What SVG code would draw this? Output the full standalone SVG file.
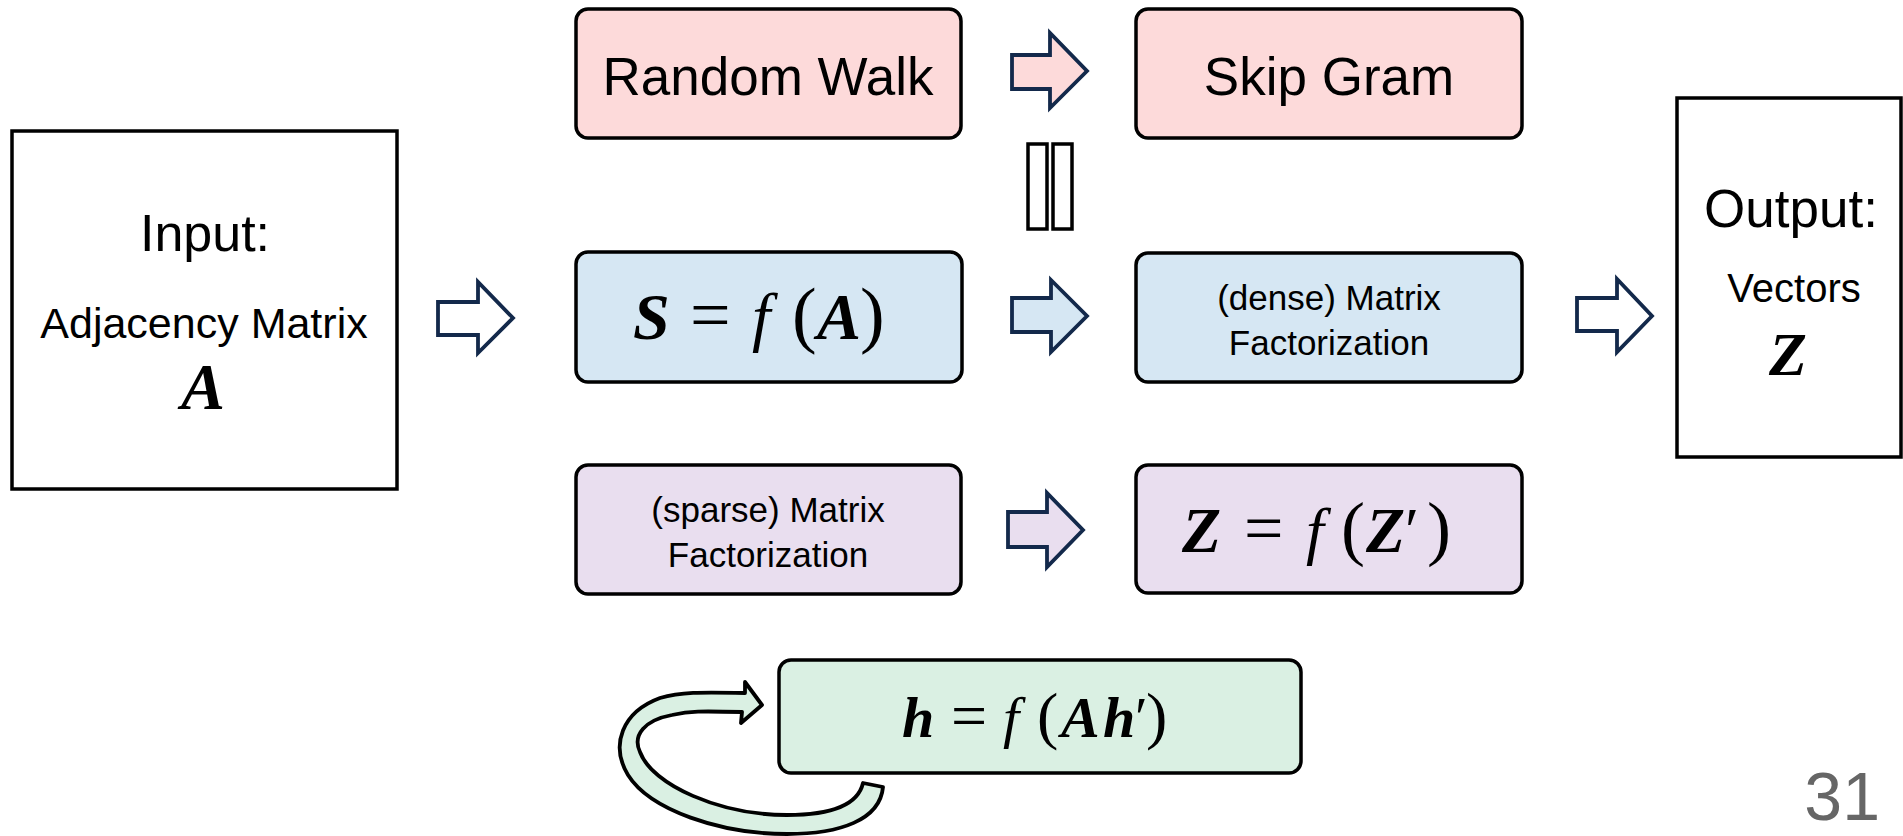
<svg xmlns="http://www.w3.org/2000/svg" width="1903" height="836" viewBox="0 0 1903 836">
<style>
.box{stroke:#000;stroke-width:3.5}
.sq{fill:#fff;stroke:#000;stroke-width:3.5}
.pink{fill:#fddada}
.blue{fill:#d6e7f3}
.purple{fill:#e9deef}
.green{fill:#daf0e3}
.arr{stroke:#13294b;stroke-width:3.8;stroke-linejoin:miter}
.sans{font-family:"Liberation Sans",Arial,sans-serif;fill:#000}
.math{font-family:"Liberation Serif","Times New Roman",serif;fill:#000}
.bi{font-weight:bold;font-style:italic}
.it{font-style:italic}
</style>
<rect width="1903" height="836" fill="#fff"/>

<g id="input">
<rect class="sq" x="12" y="131" width="385" height="358"/>
<text class="sans" x="205" y="251" font-size="52" text-anchor="middle">Input:</text>
<text class="sans" x="204" y="338" font-size="43" text-anchor="middle">Adjacency Matrix</text>
<text class="math bi" x="203" y="409" font-size="66" text-anchor="middle">A</text>
</g>

<g id="random-walk">
<rect class="box pink" x="576" y="9" width="385" height="129" rx="12"/>
<text class="sans" x="768" y="95" font-size="53" text-anchor="middle">Random Walk</text>
</g>

<g id="skip-gram">
<rect class="box pink" x="1136" y="9" width="386" height="129" rx="12"/>
<text class="sans" x="1329" y="95" font-size="53" text-anchor="middle">Skip Gram</text>
</g>

<g id="equivalence">
<rect x="1028" y="144" width="19" height="85" fill="#fff" stroke="#000" stroke-width="3.5"/>
<rect x="1053" y="144" width="19" height="85" fill="#fff" stroke="#000" stroke-width="3.5"/>
</g>

<g id="s-fa">
<rect class="box blue" x="576" y="252" width="386" height="130" rx="12"/>
<text class="math" y="339" font-size="66"><tspan class="bi" x="633">S</tspan><tspan x="690" font-size="72">=</tspan><tspan class="it" x="752">f</tspan><tspan x="792" font-size="74">(</tspan><tspan class="bi" x="817">A</tspan><tspan x="860" font-size="74">)</tspan></text>
</g>

<g id="dense-mf">
<rect class="box blue" x="1136" y="253" width="386" height="129" rx="12"/>
<text class="sans" x="1329" y="310" font-size="35" text-anchor="middle">(dense) Matrix</text>
<text class="sans" x="1329" y="355" font-size="35" text-anchor="middle">Factorization</text>
</g>

<g id="sparse-mf">
<rect class="box purple" x="576" y="465" width="385" height="129" rx="12"/>
<text class="sans" x="768" y="522" font-size="35" text-anchor="middle">(sparse) Matrix</text>
<text class="sans" x="768" y="567" font-size="35" text-anchor="middle">Factorization</text>
</g>

<g id="z-fz">
<rect class="box purple" x="1136" y="465" width="386" height="128" rx="12"/>
<text class="math" y="552" font-size="64"><tspan class="bi" x="1182">Z</tspan><tspan x="1244" font-size="70">=</tspan><tspan class="it" x="1306">f</tspan><tspan x="1341" font-size="72">(</tspan><tspan class="bi" x="1366">Z</tspan><tspan x="1405">′</tspan><tspan x="1427" font-size="72">)</tspan></text>
</g>

<g id="output">
<rect class="sq" x="1677" y="98" width="224" height="359"/>
<text class="sans" x="1791" y="227" font-size="53" text-anchor="middle">Output:</text>
<text class="sans" x="1794" y="302" font-size="40" text-anchor="middle">Vectors</text>
<text class="math bi" x="1788" y="375" font-size="62" text-anchor="middle">Z</text>
</g>

<g id="h-fah">
<rect class="box green" x="779" y="660" width="522" height="113" rx="12"/>
<text class="math" y="737" font-size="58"><tspan class="bi" x="902">h</tspan><tspan x="951" font-size="64">=</tspan><tspan class="it" x="1003">f</tspan><tspan x="1037" font-size="64">(</tspan><tspan class="bi" x="1061">A</tspan><tspan class="bi" x="1103">h</tspan><tspan x="1135">′</tspan><tspan x="1146" font-size="64">)</tspan></text>
</g>

<g id="connectors">
<path class="arr" fill="#fff" d="M438 302 H478 V282 L513 318 L478 353 V335 H438 Z"/>
<path class="arr pink" d="M1012 55 H1050 V33 L1087 71 L1050 108 V89 H1012 Z"/>
<path class="arr blue" d="M1012 298 H1051 V280 L1087 316 L1051 352 V332 H1012 Z"/>
<path class="arr purple" d="M1008 512 H1047 V493 L1083 530 L1047 567 V547 H1008 Z"/>
<path class="arr" fill="#fff" d="M1577 298 H1617 V279 L1652 316 L1617 352 V331 H1577 Z"/>
<path class="green" stroke="#000" stroke-width="3.8" stroke-linejoin="round" d="M883 787 C880 820 840 834 787 834 C720 834 650 810 628 775 C610 745 622 712 660 698 C680 692 700 692 745 693 L745 682 L762 705 L741 723 L742 712 C700 711 690 711 672 715 C645 720 632 735 640 752 C652 785 720 815 787 815 C830 815 858 805 863 783 Z"/>
</g>

<text x="1880" y="820" font-family="Liberation Sans, Arial, sans-serif" font-size="68" fill="#666" text-anchor="end">31</text>
</svg>
